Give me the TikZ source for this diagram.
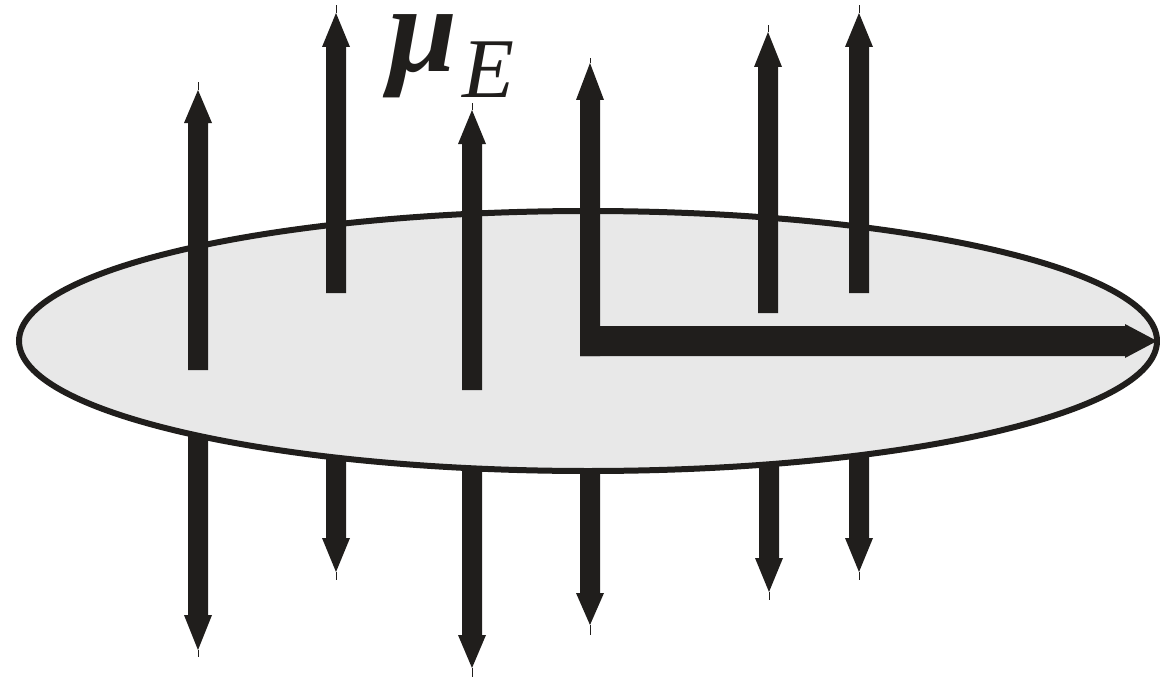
\documentclass[tikz,border=0pt]{standalone}
\usepackage{fontspec}
\setmainfont{Liberation Serif}
\definecolor{ink}{RGB}{32,30,28}
\definecolor{disc}{RGB}{232,232,232}
\newcommand{\myarrow}[5]{%
  \fill[ink] (#1-10,#2) -- (#1-10,#3) -- (#1-14,#3) -- (#1,#4) -- (#1+14,#3) -- (#1+10,#3) -- (#1+10,#2) -- cycle;
  \draw[stick] (#1,#4) -- (#1,#5);}
\begin{document}
\begin{tikzpicture}[x=1pt,y=-1pt,
  stick/.style={draw=ink,line width=1pt},
  rim/.style={draw=ink,line width=6pt,fill=disc},
  lbl/.style={anchor=base west,inner sep=0pt,text=ink}]
\useasboundingbox (0,0) rectangle (1160,677);
% downward arrows (behind the disc)
\myarrow{198}{400}{615}{650}{657}
\myarrow{336}{400}{538}{572}{580}
\myarrow{472}{400}{635}{668}{677}
\myarrow{590}{400}{593}{625}{635}
\myarrow{769}{400}{558}{592}{600}
\myarrow{859}{400}{538}{572}{580}
% disc
\draw[rim] (588,341) ellipse [x radius=569, y radius=130];
% upward arrows
\myarrow{198}{370}{123}{90}{82}
\myarrow{336}{293}{47}{13}{5}
\myarrow{472}{390}{144}{110}{103}
\myarrow{768}{313}{67}{32}{25}
\myarrow{859}{293}{47}{13}{5}
% L-shaped arrow
\myarrow{590}{356}{100}{63}{58}
\fill[ink] (580,326) -- (1125,326) -- (1125,324) -- (1157,341) -- (1125,358) -- (1125,356) -- (580,356) -- cycle;
% label
\node[lbl] (mu) at (388,72) {\fontsize{124}{124}\selectfont\bfseries\itshape μ};
\node[lbl] (E) at (462,98) {\fontsize{85}{85}\selectfont\itshape E};
\end{tikzpicture}
\end{document}
